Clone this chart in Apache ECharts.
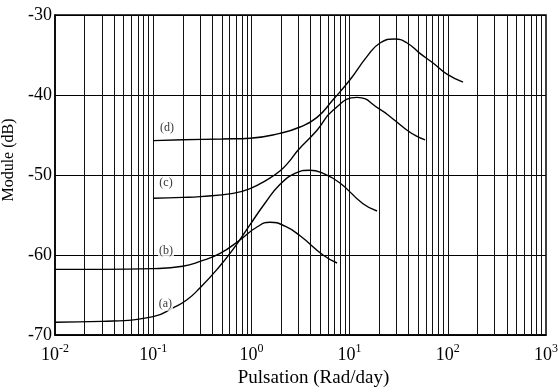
<!DOCTYPE html>
<html>
<head>
<meta charset="utf-8">
<script src="https://cdn.jsdelivr.net/npm/echarts@6/dist/echarts.min.js"></script>
<style>html,body{margin:0;padding:0;background:#fff;}#c{width:559px;height:392px;}</style>
</head>
<body>
<div id="c"></div>
<script>
// Pulsation (rad/day) and module (dB) for each curve
const omegaA = [0.01, 0.03, 0.1, 0.159, 0.221, 0.30, 0.447, 0.65, 0.97, 1.38, 1.95, 2.78, 3.95, 5.36, 7.98, 13.7, 19.0];
const dbA    = [-68.4, -68.3, -67.7, -66.6, -65.6, -64.1, -61.8, -59.3, -56.2, -53.5, -51.2, -49.8, -49.4, -49.8, -51.0, -53.6, -54.5];

const omegaB = [0.01, 0.03, 0.1, 0.2, 0.3, 0.48, 0.77, 1.14, 1.55, 2.2, 3.13, 5.36, 7.45];
const dbB    = [-61.8, -61.8, -61.7, -61.4, -60.8, -59.8, -58.1, -56.5, -55.9, -56.4, -57.6, -60.0, -61.0];

const omegaC = [0.1, 0.2, 0.3, 0.65, 0.97, 1.44, 1.95, 2.47, 2.98, 4.66, 6.78, 11.9, 20.4, 27.7, 38.5, 47.5, 58.7];
const dbC    = [-52.9, -52.8, -52.7, -52.3, -51.7, -50.6, -49.5, -48.2, -46.9, -44.4, -41.9, -40.3, -41.8, -43.0, -44.4, -45.1, -45.6];

const omegaD = [0.1, 0.2, 0.5, 0.97, 1.95, 3.13, 4.66, 6.78, 10.1, 15.0, 20.4, 29, 38.5, 52, 70.7, 98, 143];
const dbD    = [-45.7, -45.6, -45.5, -45.4, -44.8, -44.0, -42.8, -40.6, -38.1, -35.2, -33.5, -33.0, -33.5, -34.8, -36.0, -37.4, -38.4];

const curveNames = ['(a)', '(b)', '(c)', '(d)'];
const labelOmega = [0.133, 0.135, 0.135, 0.138];
const labelDb    = [-66.1, -59.5, -51.0, -44.1];

const yTicks = [-70, -60, -50, -40, -30];

// vertical log grid lines (1..9 x 10^k)
const gridX = [];
for (let k = -2; k <= 2; k++) {
  for (let m = 1; m <= 9; m++) {
    const v = +(m * Math.pow(10, k)).toPrecision(3);
    if (v > 0.01) gridX.push(v);
  }
}

function pairs(xs, ys) { return xs.map((x, i) => [x, ys[i]]); }

const font = 'Liberation Serif';
const lineStyle = { color: '#000', width: 1.4 };

const chart = echarts.init(document.getElementById('c'), null, { renderer: 'canvas' });
chart.setOption({
  animation: false,
  backgroundColor: '#fff',
  grid: { left: 55, right: 13, top: 15, bottom: 57, containLabel: false, outerBoundsMode: 'none', show: true, borderColor: '#000', borderWidth: 1.5, backgroundColor: 'transparent' },
  xAxis: {
    type: 'log', logBase: 10, min: 0.01, max: 1000, splitNumber: 5,
    name: 'Pulsation (Rad/day)', nameLocation: 'middle', nameGap: 33,
    nameTextStyle: { fontFamily: font, fontSize: 19, color: '#000', padding: [0, 0, 0, 26] },
    axisLine: { lineStyle: { color: '#000', width: 1.5 } },
    axisTick: { show: false },
    splitLine: { show: false },
    axisLabel: {
      margin: 7, color: '#000',
      formatter: function (v) { return '{b|10}{s|' + Math.round(Math.log10(v)) + '}'; },
      rich: {
        b: { fontFamily: font, fontSize: 18, color: '#000', verticalAlign: 'bottom', lineHeight: 22 },
        s: { fontFamily: font, fontSize: 12, color: '#000', verticalAlign: 'bottom', lineHeight: 22, padding: [0, 0, 9, 0] }
      }
    }
  },
  yAxis: {
    type: 'value', min: yTicks[0], max: yTicks[yTicks.length - 1], interval: 10,
    name: 'Module (dB)', nameLocation: 'middle', nameGap: 33,
    nameTextStyle: { fontFamily: font, fontSize: 16, color: '#000', padding: [0, 0, 0, 30] },
    axisLine: { show: true, lineStyle: { color: '#000', width: 1.5 } },
    axisTick: { show: false },
    splitLine: { show: true, lineStyle: { color: '#000', width: 1 } },
    axisLabel: { margin: 3, fontFamily: font, fontSize: 18, color: '#000' }
  },
  series: [
    {
      type: 'line', data: [], silent: true,
      markLine: {
        silent: true, symbol: 'none', animation: false,
        label: { show: false },
        lineStyle: { color: '#111', width: 1, type: 'solid' },
        emphasis: { disabled: true },
        data: gridX.map(v => ({ xAxis: v }))
      }
    },
    { type: 'line', name: '(a)', data: pairs(omegaA, dbA), smooth: 0.5, showSymbol: false, lineStyle: lineStyle, z: 5 },
    { type: 'line', name: '(b)', data: pairs(omegaB, dbB), smooth: 0.5, showSymbol: false, lineStyle: lineStyle, z: 5 },
    { type: 'line', name: '(c)', data: pairs(omegaC, dbC), smooth: 0.5, showSymbol: false, lineStyle: lineStyle, z: 5 },
    { type: 'line', name: '(d)', data: pairs(omegaD, dbD), smooth: 0.5, showSymbol: false, lineStyle: lineStyle, z: 5 },
    {
      type: 'scatter', symbolSize: 0, z: 6,
      data: curveNames.map((n, i) => ({ value: [labelOmega[i], labelDb[i]], name: n })),
      label: { show: true, position: 'inside', formatter: p => p.name, fontFamily: font, fontSize: 12, color: '#000', backgroundColor: '#fff', padding: [1, 1] }
    }
  ]
});
</script>
</body>
</html>
